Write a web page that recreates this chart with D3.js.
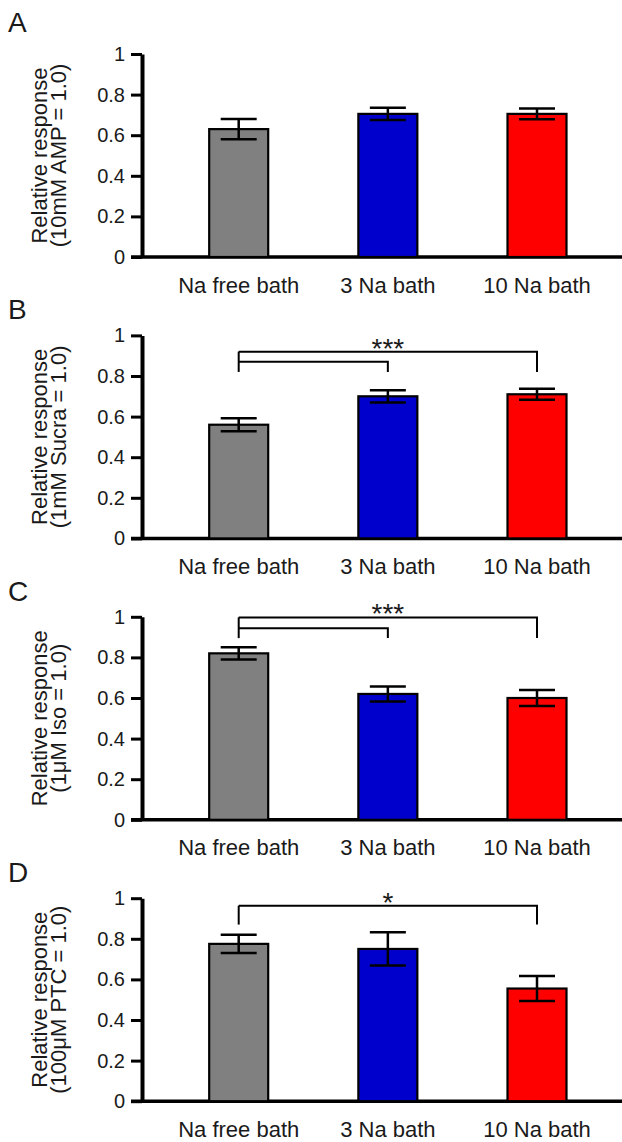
<!DOCTYPE html>
<html>
<head>
<meta charset="utf-8">
<script src="https://cdn.jsdelivr.net/npm/d3@7"></script>
<style>
  body { margin: 0; background: #fff; }
  text { font-family: "Liberation Sans", Arial, sans-serif; fill: #1a1a1a; }
</style>
</head>
<body>
<svg id="chart" width="622" height="1142"></svg>
<script>
// chart values
const categories = ['Na free bath', '3 Na bath', '10 Na bath']
const barColors = ['#808080', '#0000cc', '#ff0000']
const panelLetters = ['A', 'B', 'C', 'D']
const stimulusLabels = ['(10mM AMP = 1.0)', '(1mM Sucra = 1.0)', '(1μM Iso = 1.0)', '(100μM PTC = 1.0)']
const meanValues = [
  [0.63, 0.705, 0.705],
  [0.56, 0.70, 0.71],
  [0.82, 0.62, 0.60],
  [0.775, 0.75, 0.555],
]
const semValues = [
  [0.05, 0.03, 0.027],
  [0.032, 0.03, 0.027],
  [0.03, 0.037, 0.04],
  [0.045, 0.082, 0.062],
]
const yTicks = [0, 0.2, 0.4, 0.6, 0.8, 1]
const tickLabels = ['0', '0.2', '0.4', '0.6', '0.8', '1']
// significance brackets: reference bar, compared bars (outer first), bracket heights, mark
const brackets = [
  null,
  { from: 0, to: [2, 1], levels: [0.92, 0.87], legBottom: 0.82, mark: '***' },
  { from: 0, to: [2, 1], levels: [0.997, 0.943], legBottom: 0.895, mark: '***' },
  { from: 0, to: [2], levels: [0.963], legBottom: 0.87, mark: '*' },
]

const svg = d3.select('#chart')
const W = 622
const axisX = 142
const plotH = 203
const panelStep = 281.4
const firstZero = 257
const barW = 59
const capW = 36

const x = d3.scalePoint().domain(categories).range([238.7, 537])

panelLetters.forEach((letter, i) => {
  const zeroY = firstZero + i * panelStep
  const y = d3.scaleLinear().domain([0, 1]).range([zeroY, zeroY - plotH])
  const g = svg.append('g')

  // panel letter
  g.append('text')
    .attr('x', 8)
    .attr('y', y(1) - (i === 0 ? 22 : 16))
    .style('font-size', '28px')
    .text(letter)

  // y axis
  const yAxis = d3.axisLeft(y)
    .tickValues(yTicks)
    .tickFormat((d, k) => tickLabels[k])
    .tickSize(11)
    .tickSizeOuter(0)
    .tickPadding(6)
  const ya = g.append('g').attr('transform', `translate(${axisX},0)`).call(yAxis)
  ya.select('.domain').attr('stroke', '#000').attr('stroke-width', 4)
  ya.selectAll('.tick line').attr('stroke', '#000').attr('stroke-width', 3)
  ya.selectAll('.tick text')
    .attr('fill', '#1a1a1a')
    .style('font-family', '"Liberation Sans", Arial, sans-serif')
    .style('font-size', '20px')

  // x axis baseline
  g.append('line')
    .attr('x1', axisX - 11).attr('x2', W)
    .attr('y1', y(0)).attr('y2', y(0))
    .attr('stroke', '#000').attr('stroke-width', 3.5)

  // y axis title, two lines
  const midY = (y(0) + y(1)) / 2
  g.append('text')
    .attr('transform', `translate(46.5,${midY}) rotate(-90)`)
    .attr('text-anchor', 'middle')
    .style('font-size', '22px')
    .text('Relative response')
  g.append('text')
    .attr('transform', `translate(66,${midY}) rotate(-90)`)
    .attr('text-anchor', 'middle')
    .style('font-size', '22px')
    .text(stimulusLabels[i])

  // bars
  const rows = categories.map((c, k) => ({ c, v: meanValues[i][k], e: semValues[i][k], color: barColors[k] }))
  g.selectAll('rect.bar').data(rows).join('rect')
    .attr('class', 'bar')
    .attr('x', d => x(d.c) - barW / 2)
    .attr('y', d => y(d.v))
    .attr('width', barW)
    .attr('height', d => y(0) - y(d.v))
    .attr('fill', d => d.color)
    .attr('stroke', '#000')
    .attr('stroke-width', 2.2)

  // error bars
  const eb = g.selectAll('g.err').data(rows).join('g').attr('class', 'err')
    .attr('stroke', '#000').attr('stroke-width', 2.5)
  eb.append('line')
    .attr('x1', d => x(d.c)).attr('x2', d => x(d.c))
    .attr('y1', d => y(d.v + d.e)).attr('y2', d => y(d.v - d.e))
  eb.append('line')
    .attr('x1', d => x(d.c) - capW / 2).attr('x2', d => x(d.c) + capW / 2)
    .attr('y1', d => y(d.v + d.e)).attr('y2', d => y(d.v + d.e))
  eb.append('line')
    .attr('x1', d => x(d.c) - capW / 2).attr('x2', d => x(d.c) + capW / 2)
    .attr('y1', d => y(d.v - d.e)).attr('y2', d => y(d.v - d.e))

  // category labels
  g.selectAll('text.cat').data(categories).join('text')
    .attr('class', 'cat')
    .attr('x', d => x(d))
    .attr('y', y(0) + 35.5)
    .attr('text-anchor', 'middle')
    .style('font-size', '22px')
    .text(d => d)

  // significance brackets
  const br = brackets[i]
  if (br) {
    const x0 = x(categories[br.from])
    const bg = g.append('g').attr('fill', 'none').attr('stroke', '#000').attr('stroke-width', 2)
    bg.append('line')
      .attr('x1', x0).attr('x2', x0)
      .attr('y1', y(br.levels[0])).attr('y2', y(br.legBottom))
    br.to.forEach((t, j) => {
      const x1 = x(categories[t])
      bg.append('path')
        .attr('d', `M${x0},${y(br.levels[j])}H${x1}V${y(br.legBottom)}`)
    })
    const xEnd = x(categories[br.to[0]])
    g.append('text')
      .attr('x', (x0 + xEnd) / 2)
      .attr('y', y(br.levels[0]) + 6)
      .attr('text-anchor', 'middle')
      .style('font-size', '28px')
      .text(br.mark)
  }
})
</script>
</body>
</html>
